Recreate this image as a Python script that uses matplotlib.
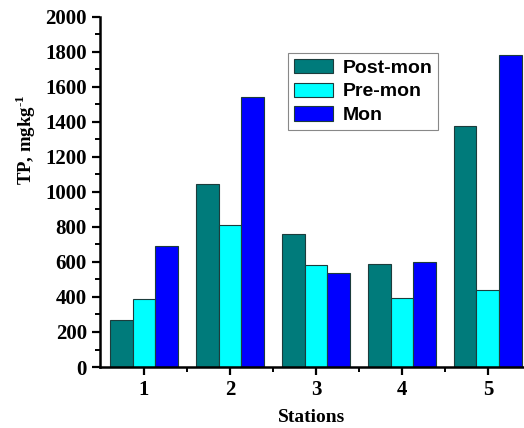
import matplotlib
matplotlib.use('Agg')
import matplotlib.pyplot as plt
import numpy as np
from matplotlib.ticker import MultipleLocator

# bold Times-like font for the superscript in the y label
plt.rcParams['mathtext.fontset'] = 'custom'
plt.rcParams['mathtext.rm'] = 'Liberation Serif:bold'
plt.rcParams['mathtext.bf'] = 'Liberation Serif:bold'

# TP per station and season
stations = ['1', '2', '3', '4', '5']
post_mon = [270, 1045, 760, 590, 1375]
pre_mon = [390, 810, 580, 395, 440]
mon = [690, 1540, 535, 600, 1780]

labels = ['Post-mon', 'Pre-mon', 'Mon']
colors = ['#007b7b', '#00ffff', '#0000ff']

x = np.arange(1, len(stations) + 1)
w = 0.265

fig = plt.figure(figsize=(5.24, 4.28), dpi=100)
ax = fig.add_axes([0.191, 0.1425, 0.809, 0.818])

for i, (vals, lab, c) in enumerate(zip([post_mon, pre_mon, mon], labels, colors)):
    ax.bar(x + (i - 1) * w, vals, width=w, color=c, edgecolor='#1c3c3c',
           linewidth=0.8, label=lab)

ax.set_xlim(0.49, 5.42)
ax.set_ylim(0, 2000)
ax.set_xticks(x)
ax.set_xticklabels(stations)
ax.set_xticks([1.5, 2.5, 3.5, 4.5], minor=True)
ax.yaxis.set_major_locator(MultipleLocator(200))
ax.yaxis.set_minor_locator(MultipleLocator(100))

for s in ['top', 'right']:
    ax.spines[s].set_visible(False)
for s in ['left', 'bottom']:
    ax.spines[s].set_linewidth(1.8)

ax.tick_params(which='major', direction='out', length=6, width=1.6)
ax.tick_params(which='minor', direction='out', length=3.5, width=1.4)
for t in ax.get_xticklabels() + ax.get_yticklabels():
    t.set_fontfamily('Liberation Serif')
    t.set_fontweight('bold')
    t.set_fontsize(15)

ax.set_xlabel('Stations', fontfamily='Liberation Serif', fontweight='bold',
              fontsize=14, labelpad=6)
ax.set_ylabel('TP, mgkg$^{\\text{-1}}$', fontfamily='Liberation Serif',
              fontweight='bold', fontsize=13.5)
ax.yaxis.set_label_coords(-0.147, 0.65)

leg = ax.legend(loc='upper left', bbox_to_anchor=(0.443, 0.897),
                prop={'family': 'Liberation Sans', 'weight': 'bold', 'size': 14},
                fancybox=False, framealpha=1, edgecolor='#888888',
                handlelength=2.0, handleheight=0.75, labelspacing=0.3,
                handletextpad=0.5, borderpad=0.3, borderaxespad=0)
leg.get_frame().set_linewidth(0.8)

fig.savefig('out.png', dpi=100)
